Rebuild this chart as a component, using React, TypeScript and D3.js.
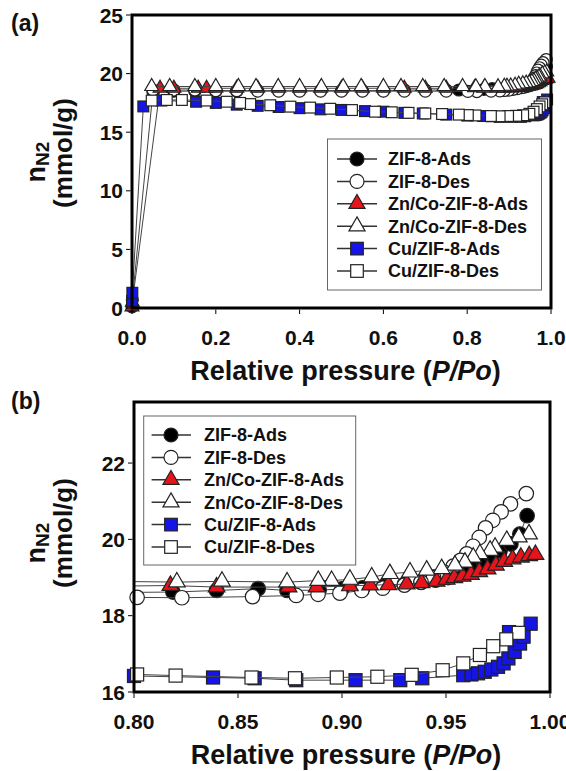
import React from "react";
import * as d3 from "d3";

type Pt = [number, number];

// ---------- data ----------
const zif8Ads: Pt[] = [
  [0.0, 0.1], [0.0008, 0.7],
  [0.05, 18.45], [0.1, 18.5], [0.15, 18.5], [0.2, 18.5], [0.25, 18.5], [0.3, 18.55], [0.35, 18.55],
  [0.4, 18.55], [0.45, 18.55], [0.5, 18.55], [0.55, 18.55], [0.6, 18.55], [0.65, 18.6], [0.7, 18.6],
  [0.75, 18.6], [0.78, 18.6],
  [0.8187, 18.62], [0.8397, 18.66], [0.8597, 18.71], [0.8736, 18.66], [0.889, 18.67], [0.9, 18.7],
  [0.91, 18.73], [0.92, 18.77], [0.93, 18.82], [0.938, 18.87], [0.945, 18.93], [0.951, 19.0],
  [0.956, 19.1], [0.96, 19.2], [0.964, 19.3], [0.968, 19.42], [0.972, 19.55], [0.976, 19.7],
  [0.9812, 19.88], [0.9855, 20.14], [0.989, 20.62],
];

const zif8Des: Pt[] = [
  [0.9886, 21.2], [0.981, 20.93], [0.9765, 20.72], [0.9725, 20.5], [0.969, 20.3], [0.966, 20.05],
  [0.963, 19.82], [0.96, 19.62], [0.957, 19.45], [0.9535, 19.3], [0.949, 19.14], [0.944, 19.0],
  [0.938, 18.88], [0.93, 18.8], [0.9196, 18.72], [0.9095, 18.66], [0.899, 18.59], [0.8885, 18.56],
  [0.878, 18.53], [0.857, 18.5], [0.823, 18.47], [0.8015, 18.48],
  [0.75, 18.5], [0.7, 18.5], [0.65, 18.5], [0.6, 18.5], [0.55, 18.5], [0.5, 18.5], [0.45, 18.5],
  [0.4, 18.5], [0.35, 18.5], [0.3, 18.5], [0.25, 18.55], [0.2, 18.55], [0.15, 18.6], [0.1, 18.6],
  [0.05, 18.6],
];

const znCoAds: Pt[] = [
  [0.0, 0.1], [0.0008, 0.5],
  [0.067, 18.75], [0.1, 18.75], [0.158, 18.75], [0.178, 18.75], [0.2, 18.75], [0.25, 18.75],
  [0.3, 18.75], [0.35, 18.75], [0.4, 18.75], [0.45, 18.75], [0.5, 18.75], [0.55, 18.75], [0.6, 18.75],
  [0.65, 18.75], [0.7, 18.75], [0.75, 18.75],
  [0.8175, 18.79], [0.8397, 18.75], [0.8743, 18.75], [0.8878, 18.75], [0.9038, 18.78], [0.9135, 18.8],
  [0.9223, 18.81], [0.9311, 18.83], [0.9383, 18.86], [0.9455, 18.9], [0.9503, 18.95], [0.954, 18.99],
  [0.958, 19.03], [0.962, 19.08], [0.966, 19.15], [0.97, 19.22], [0.974, 19.32], [0.978, 19.42],
  [0.982, 19.48], [0.986, 19.53], [0.99, 19.57], [0.993, 19.6],
];

const znCoDes: Pt[] = [
  [0.9899, 20.14], [0.985, 20.06], [0.9792, 19.97], [0.9736, 19.79], [0.9712, 19.71], [0.9663, 19.62],
  [0.9631, 19.53], [0.9591, 19.4], [0.9543, 19.32], [0.9479, 19.23], [0.9407, 19.19], [0.9327, 19.14],
  [0.923, 19.1], [0.9143, 19.01], [0.9038, 18.95], [0.895, 18.92], [0.8886, 18.92], [0.8736, 18.88],
  [0.8423, 18.9], [0.8206, 18.88],
  [0.789, 18.9], [0.745, 18.9], [0.694, 18.9], [0.642, 18.9], [0.6, 18.9], [0.547, 18.9], [0.504, 18.9],
  [0.452, 18.9], [0.4, 18.9], [0.349, 18.9], [0.296, 18.9], [0.254, 18.9], [0.2, 18.9], [0.15, 18.9],
  [0.09, 18.9], [0.047, 18.9],
];

const cuAds: Pt[] = [
  [0.0, 0.6], [0.0008, 1.3], [0.027, 17.2], [0.07, 17.7], [0.153, 17.6], [0.2, 17.5], [0.25, 17.35],
  [0.3, 17.25], [0.35, 17.15], [0.4, 17.05], [0.45, 16.95], [0.5, 16.9], [0.556, 16.8], [0.6, 16.75],
  [0.65, 16.65], [0.694, 16.6], [0.75, 16.5], [0.8, 16.42],
  [0.838, 16.38], [0.858, 16.36], [0.878, 16.31], [0.9065, 16.31], [0.928, 16.31], [0.9386, 16.36],
  [0.9583, 16.44], [0.9622, 16.46], [0.9654, 16.49], [0.9686, 16.53], [0.9718, 16.59], [0.975, 16.66],
  [0.9777, 16.75], [0.98, 16.88], [0.983, 17.05], [0.9856, 17.27], [0.9873, 17.45], [0.9803, 17.57],
  [0.9907, 17.79],
];

const cuDes: Pt[] = [
  [0.985, 17.55], [0.979, 17.38], [0.9727, 17.2], [0.9663, 16.97], [0.9583, 16.75], [0.9484, 16.57],
  [0.9335, 16.45], [0.917, 16.4], [0.8975, 16.38], [0.8774, 16.36], [0.8565, 16.38], [0.82, 16.43],
  [0.8015, 16.46],
  [0.78, 16.5], [0.74, 16.55], [0.7, 16.6], [0.66, 16.65], [0.62, 16.7], [0.58, 16.75], [0.525, 16.89],
  [0.473, 17.0], [0.425, 17.1], [0.378, 17.18], [0.33, 17.3], [0.282, 17.4], [0.258, 17.5],
  [0.226, 17.6], [0.178, 17.7], [0.119, 17.75], [0.083, 17.75], [0.047, 17.7],
];

const seriesNames = [
  "ZIF-8-Ads", "ZIF-8-Des", "Zn/Co-ZIF-8-Ads", "Zn/Co-ZIF-8-Des", "Cu/ZIF-8-Ads", "Cu/ZIF-8-Des",
];
const seriesData: Pt[][] = [zif8Ads, zif8Des, znCoAds, znCoDes, cuAds, cuDes];

const xTicksA = [0, 0.2, 0.4, 0.6, 0.8, 1.0];
const yTicksA = [0, 5, 10, 15, 20, 25];
const xTicksB = [0.8, 0.85, 0.9, 0.95, 1.0];
const yTicksB = [16, 18, 20, 22];

// ---------- styles ----------
type Shape = "circle" | "triangle" | "square";
const seriesStyle: { shape: Shape; fill: string }[] = [
  { shape: "circle", fill: "#000000" },
  { shape: "circle", fill: "#ffffff" },
  { shape: "triangle", fill: "#e8141b" },
  { shape: "triangle", fill: "#ffffff" },
  { shape: "square", fill: "#1515e8" },
  { shape: "square", fill: "#ffffff" },
];

const FONT = "'Liberation Sans', Arial, Helvetica, sans-serif";

function Marker({ shape, cx, cy, size, fill }: { shape: Shape; cx: number; cy: number; size: number; fill: string }) {
  const stroke = "#222";
  const sw = 1.2;
  if (shape === "circle") {
    return <circle cx={cx} cy={cy} r={size / 2} fill={fill} stroke={stroke} strokeWidth={sw} />;
  }
  if (shape === "square") {
    const s = size * 0.9;
    return <rect x={cx - s / 2} y={cy - s / 2} width={s} height={s} fill={fill} stroke={stroke} strokeWidth={sw} />;
  }
  const s = size * 1.15;
  const h = s * 0.866;
  const p = `M${cx},${cy - (2 * h) / 3}L${cx + s / 2},${cy + h / 3}L${cx - s / 2},${cy + h / 3}Z`;
  return <path d={p} fill={fill} stroke={stroke} strokeWidth={sw} strokeLinejoin="miter" />;
}

type Box = { left: number; right: number; top: number; bottom: number };
type LegendCfg = { x: number; y: number; w: number; h: number; row0: number; step: number; l1: number; l2: number; mx: number; tx: number };

function Panel(props: {
  id: string;
  box: Box;
  xDom: [number, number];
  yDom: [number, number];
  xTicks: number[];
  yTicks: number[];
  xFmt: (v: number) => string;
  yFmt: (v: number) => string;
  msize: number;
  label: string;
  labelY: number;
  legend: LegendCfg;
  yTitleN: number;
  yTitleM: number;
}) {
  const { id, box, xDom, yDom, xTicks, yTicks, xFmt, yFmt, msize, label, labelY, legend } = props;
  const x = d3.scaleLinear().domain(xDom).range([box.left, box.right]);
  const y = d3.scaleLinear().domain(yDom).range([box.bottom, box.top]);
  const line = d3.line<Pt>().x((d) => x(d[0])).y((d) => y(d[1]));
  const clipId = `clip-${id}`;
  const inDom = (d: Pt) => d[0] >= xDom[0] - 1e-9 && d[0] <= xDom[1] && d[1] >= yDom[0] && d[1] <= yDom[1];
  const cx = (box.left + box.right) / 2;
  return (
    <g>
      <defs>
        <clipPath id={clipId}>
          <rect x={box.left} y={box.top} width={box.right - box.left} height={box.bottom - box.top} />
        </clipPath>
      </defs>
      {seriesData.map((data, i) => (
        <g key={i}>
          <path d={line(data) || ""} fill="none" stroke="#444" strokeWidth={1} clipPath={`url(#${clipId})`} />
          {data.filter(inDom).map((d, j) => (
            <Marker key={j} shape={seriesStyle[i].shape} cx={x(d[0])} cy={y(d[1])} size={msize} fill={seriesStyle[i].fill} />
          ))}
        </g>
      ))}
      {/* frame */}
      <rect x={box.left} y={box.top} width={box.right - box.left} height={box.bottom - box.top} fill="none" stroke="#000" strokeWidth={3} />
      {/* ticks */}
      {xTicks.map((t, i) => (
        <g key={`xt${i}`}>
          <line x1={x(t)} x2={x(t)} y1={box.bottom + 1.5} y2={box.bottom + 6} stroke="#000" strokeWidth={1} />
          <text x={x(t)} y={box.bottom + 37} textAnchor="middle" fontFamily={FONT} fontWeight="bold" fontSize={21} fill="#111">
            {xFmt(t)}
          </text>
        </g>
      ))}
      {yTicks.map((t, i) => (
        <g key={`yt${i}`}>
          <line x1={box.left - 6} x2={box.left - 1.5} y1={y(t)} y2={y(t)} stroke="#000" strokeWidth={1} />
          <text x={box.left - 9} y={y(t)} dy="0.36em" textAnchor="end" fontFamily={FONT} fontWeight="bold" fontSize={21} fill="#111">
            {yFmt(t)}
          </text>
        </g>
      ))}
      {/* axis titles */}
      <text x={cx + 4} y={box.bottom + 72} textAnchor="middle" fontFamily={FONT} fontWeight="bold" fontSize={27} fill="#111">
        Relative pressure (<tspan fontStyle="italic">P/Po</tspan>)
      </text>
      <text transform={`translate(45,${props.yTitleN}) rotate(-90)`} textAnchor="middle" fontFamily={FONT} fontWeight="bold" fontSize={27} fill="#111">
        n<tspan fontSize={19} dy={4}>N2</tspan>
      </text>
      <text transform={`translate(72,${props.yTitleM}) rotate(-90)`} textAnchor="middle" fontFamily={FONT} fontWeight="bold" fontSize={26} fill="#111">
        (mmol/g)
      </text>
      <text x={11} y={labelY} fontFamily={FONT} fontWeight="bold" fontSize={23} fill="#111">
        {label}
      </text>
      {/* legend */}
      <rect x={legend.x} y={legend.y} width={legend.w} height={legend.h} fill="#fff" stroke="#666" strokeWidth={1} />
      {seriesNames.map((name, i) => {
        const ry = legend.row0 + i * legend.step;
        return (
          <g key={`lg${i}`}>
            <line x1={legend.l1} x2={legend.l2} y1={ry} y2={ry} stroke="#333" strokeWidth={1.5} />
            <Marker shape={seriesStyle[i].shape} cx={legend.mx} cy={ry} size={14} fill={seriesStyle[i].fill} />
            <text x={legend.tx} y={ry} dy="0.36em" fontFamily={FONT} fontWeight="bold" fontSize={18} fill="#111">
              {name}
            </text>
          </g>
        );
      })}
    </g>
  );
}

export default function App() {
  const fmt1 = d3.format(".1f");
  const fmt2 = d3.format(".2f");
  const fmt0 = d3.format("d");
  return (
    <svg width={566} height={771} viewBox="0 0 566 771" style={{ position: "absolute", left: 0, top: 0, background: "#fff" }}>
      <rect x={0} y={0} width={566} height={771} fill="#fff" />
      <Panel
        id="a"
        box={{ left: 132, right: 551, top: 15, bottom: 308 }}
        xDom={[0, 1]}
        yDom={[0, 25]}
        xTicks={xTicksA}
        yTicks={yTicksA}
        xFmt={fmt1}
        yFmt={fmt0}
        msize={12}
        label="(a)"
        labelY={31}
        legend={{ x: 327.5, y: 139, w: 214, h: 151, row0: 159, step: 22.4, l1: 337, l2: 377, mx: 357, tx: 388 }}
        yTitleN={162}
        yTitleM={153}
      />
      <Panel
        id="b"
        box={{ left: 134, right: 550, top: 402, bottom: 692 }}
        xDom={[0.8, 1.0]}
        yDom={[16, 23.6]}
        xTicks={xTicksB}
        yTicks={yTicksB}
        xFmt={fmt2}
        yFmt={fmt0}
        msize={14.5}
        label="(b)"
        labelY={409}
        legend={{ x: 143.7, y: 416, w: 212, h: 149, row0: 435, step: 22.4, l1: 151.6, l2: 191, mx: 171, tx: 204 }}
        yTitleN={543}
        yTitleM={533}
      />
    </svg>
  );
}
